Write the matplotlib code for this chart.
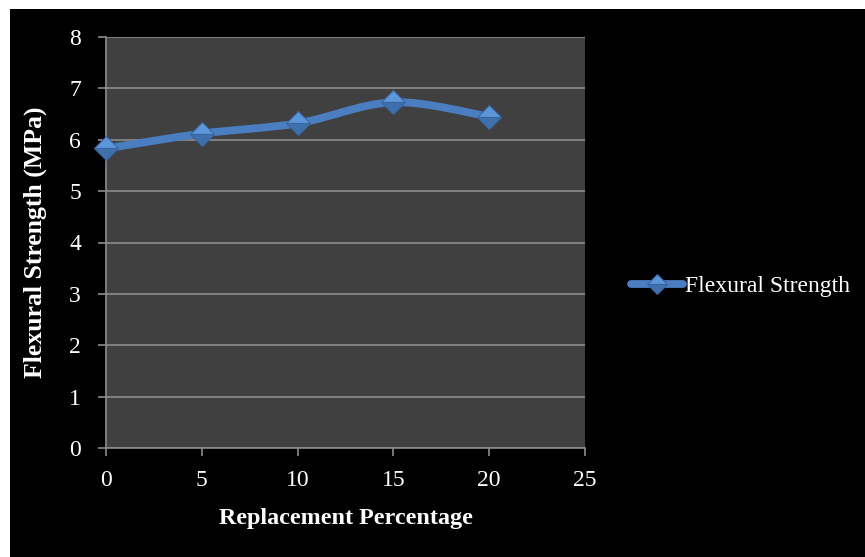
import matplotlib.pyplot as plt
from matplotlib.path import Path
from matplotlib.patches import PathPatch, Rectangle
from matplotlib.lines import Line2D
import numpy as np

# Flexural strength vs replacement percentage
replacement = [0, 5, 10, 15, 20]
strength = [5.83, 6.12, 6.32, 6.73, 6.45]
x_ticks = [0, 5, 10, 15, 20, 25]
y_ticks = [0, 1, 2, 3, 4, 5, 6, 7, 8]

LINE_COLOR = "#4A7EC0"
plt.rcParams["font.family"] = ["Liberation Serif", "DejaVu Serif"]


def smooth_path(xs, ys):
    # Catmull-Rom style bezier through every point (like a smoothed office chart line)
    pts = np.column_stack([xs, ys]).astype(float)
    n = len(pts)
    verts = [pts[0]]
    codes = [Path.MOVETO]
    for i in range(n - 1):
        p0 = pts[max(i - 1, 0)]
        p1 = pts[i]
        p2 = pts[i + 1]
        p3 = pts[min(i + 2, n - 1)]
        c1 = p1 + (p2 - p0) / 6.0
        c2 = p2 - (p3 - p1) / 6.0
        verts += [c1, c2, p2]
        codes += [Path.CURVE4] * 3
    return Path(verts, codes)


def main():
    fig = plt.figure(figsize=(8.65, 5.57), dpi=100)
    fig.patch.set_facecolor("black")

    # thin white strips along the top and left edge
    fig.patches.append(Rectangle((0, 1 - 9 / 557), 1, 9 / 557, transform=fig.transFigure,
                                 facecolor="white", edgecolor="none", zorder=10))
    fig.patches.append(Rectangle((0, 0), 10 / 865, 1, transform=fig.transFigure,
                                 facecolor="white", edgecolor="none", zorder=10))

    ax = fig.add_axes([106 / 865, 109 / 557, 479 / 865, 411 / 557])
    ax.set_facecolor("#404040")

    ax.set_xlim(0, 25)
    ax.set_ylim(0, 8)
    ax.set_xticks(x_ticks)
    ax.set_yticks(y_ticks)
    ax.yaxis.grid(True, color="#8C8C8C", linewidth=1.2)
    ax.set_axisbelow(True)

    for side in ["top", "right"]:
        ax.spines[side].set_visible(False)
    for side in ["left", "bottom"]:
        ax.spines[side].set_color("#8C8C8C")
        ax.spines[side].set_linewidth(1.2)

    ax.tick_params(axis="both", colors="#8C8C8C", labelcolor="white", labelsize=17,
                   length=6, width=1.2, direction="out")
    ax.tick_params(axis="x", pad=10)
    ax.tick_params(axis="y", pad=12)

    # smoothed series line
    path = smooth_path(replacement, strength)
    ax.add_patch(PathPatch(path, facecolor="none", edgecolor=LINE_COLOR, linewidth=5.6,
                           capstyle="round", joinstyle="round", zorder=3))

    # bevelled diamond markers
    ax.plot(replacement, strength, linestyle="none", marker="D", markersize=12.5,
            fillstyle="top", markerfacecolor="#5C96DA", markerfacecoloralt="#3E70AE",
            markeredgecolor="#3A66A0", markeredgewidth=0.8, zorder=4, clip_on=False)

    ax.set_xlabel("Replacement Percentage", color="white", fontsize=17.4,
                  fontweight="bold", labelpad=12)
    ax.set_ylabel("Flexural Strength (MPa)", color="white", fontsize=18.5,
                  fontweight="bold", labelpad=16)

    handle = Line2D([], [], color=LINE_COLOR, linewidth=5.6, solid_capstyle="round",
                    marker="D", markersize=10.5, fillstyle="top",
                    markerfacecolor="#5C96DA", markerfacecoloralt="#3E70AE",
                    markeredgecolor="#3A66A0", markeredgewidth=0.8)
    leg = fig.legend([handle], ["Flexural Strength"], loc="center left",
                     bbox_to_anchor=(631 / 865, 1 - 286 / 557), frameon=False,
                     fontsize=17, handlelength=2.2, handletextpad=0.1, borderaxespad=0,
                     borderpad=0)
    for t in leg.get_texts():
        t.set_color("white")

    fig.savefig("out.png", dpi=100, facecolor=fig.get_facecolor())


if __name__ == "__main__":
    main()
